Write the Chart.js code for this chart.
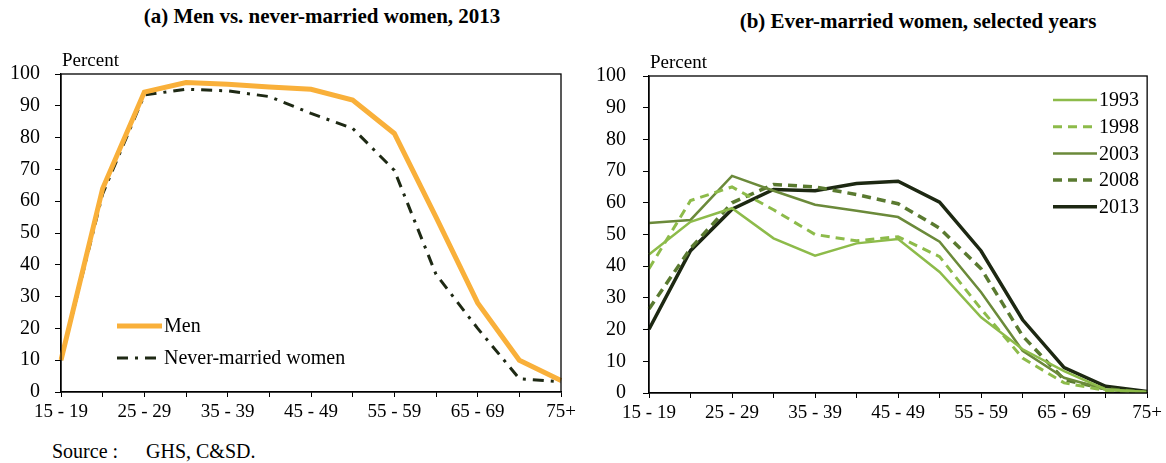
<!DOCTYPE html>
<html>
<head>
<meta charset="utf-8">
<script src="https://cdn.jsdelivr.net/npm/chart.js@4.4.0/dist/chart.umd.min.js"></script>
<style>
  body { margin: 0; background: #fff; font-family: "Liberation Serif", "Times New Roman", Times, serif; }
  #wrap { position: relative; width: 1166px; height: 463px; }
  .box { position: absolute; top: 0; height: 440px; }
  .ttl { position: absolute; font-weight: bold; font-size: 21px; white-space: nowrap; transform: translateX(-50%); }
  .src { position: absolute; top: 440px; font-size: 20px; white-space: nowrap; }
</style>
</head>
<body>
<div id="wrap">
  <div class="ttl" style="left:322px; top:4px;">(a) Men vs. never-married women, 2013</div>
  <div class="ttl" style="left:918px; top:9px;">(b) Ever-married women, selected years</div>
  <div class="box" style="left:0; width:580px;"><canvas id="chartA"></canvas></div>
  <div class="box" style="left:588px; width:578px;"><canvas id="chartB"></canvas></div>
  <div class="src" style="left:52px;">Source :</div>
  <div class="src" style="left:146px;">GHS, C&amp;SD.</div>
</div>
<script>
// kelompok umur
const ageGroups = ['15 - 19', '20 - 24', '25 - 29', '30 - 34', '35 - 39', '40 - 44', '45 - 49',
                   '50 - 54', '55 - 59', '60 - 64', '65 - 69', '70 - 74', '75+'];

// panel (a)
const men = [10, 64, 94.3, 97.3, 96.8, 95.9, 95.2, 91.8, 81.3, 55, 28, 10, 3.6];
const neverMarriedWomen = [10, 62.3, 93.4, 95.2, 94.7, 92.9, 87.6, 82.9, 69.7, 37, 20, 4.2, 3.2];

// panel (b)
const ever1993 = [43.7, 54, 58.3, 48.8, 43.3, 47.2, 48.6, 38.2, 23.9, 13.8, 6.9, 1.1, 0.3];
const ever1998 = [39.2, 60.7, 65, 57.8, 50, 48, 49.3, 43, 26.5, 11, 3.2, 0.8, 0.2];
const ever2003 = [53.6, 54.6, 68.5, 63.8, 59.4, 57.5, 55.5, 47.7, 31.8, 13.3, 4.8, 1.1, 0.2];
const ever2008 = [26.5, 45.6, 60, 65.8, 65, 62.6, 59.7, 52, 39.2, 18, 4.2, 1.3, 0.2];
const ever2013 = [20.1, 44.9, 58, 64.2, 63.8, 66.1, 66.8, 60.2, 44.8, 23.1, 8, 2.1, 0.5];

const yTicks = [0, 10, 20, 30, 40, 50, 60, 70, 80, 90, 100];

const FONT = '"Liberation Serif", "Times New Roman", serif';

// kotak plot, label "Percent" dan legenda
const framePlugin = {
    id: 'frame',
    afterDraw(chart, args, opts) {
        const ctx = chart.ctx;
        const a = chart.chartArea;
        ctx.save();
        ctx.strokeStyle = '#000';
        ctx.lineWidth = 1.3;
        ctx.strokeRect(a.left, a.top, a.right - a.left, a.bottom - a.top);

        ctx.fillStyle = '#000';
        ctx.font = '19px ' + FONT;
        ctx.textBaseline = 'alphabetic';
        ctx.textAlign = 'left';
        ctx.fillText('Percent', a.left + 1, a.top - 8);

        // legenda
        const lg = opts.legend;
        chart.data.datasets.forEach((ds, i) => {
            const y = lg.y + i * lg.step;
            ctx.beginPath();
            ctx.setLineDash(ds.borderDash || []);
            ctx.strokeStyle = ds.borderColor;
            ctx.lineWidth = ds.borderWidth;
            ctx.moveTo(lg.x, y);
            ctx.lineTo(lg.x + lg.len, y);
            ctx.stroke();
            ctx.setLineDash([]);
            ctx.fillStyle = '#000';
            ctx.font = '20px ' + FONT;
            ctx.textBaseline = 'middle';
            ctx.fillText(ds.label, lg.x + lg.len + 2, y + 1);
        });
        ctx.restore();
    }
};

const makeOptions = (padRight, padTop, yPad, legend) => ({
    responsive: true,
    maintainAspectRatio: false,
    animation: false,
    layout: { padding: { left: 0, right: padRight, top: padTop, bottom: 0 } },
    plugins: {
        legend: { display: false },
        tooltip: { enabled: false },
        frame: { legend: legend }
    },
    elements: { point: { radius: 0 }, line: { tension: 0 } },
    scales: {
        x: {
            offset: false,
            grid: { display: true, drawOnChartArea: false, tickLength: 5, color: '#000', offset: false },
            border: { color: '#000', width: 1.3 },
            ticks: {
                color: '#000',
                autoSkip: false,
                maxRotation: 0,
                padding: 4,
                font: { family: FONT, size: 19 },
                callback: (v, i) => (i % 2 === 0 ? ageGroups[i] : '')
            },
            afterFit: (s) => { s.height = 440 - 392 - (padTop === 76 ? 1 : 0); }
        },
        y: {
            min: 0,
            max: 100,
            grid: { display: true, drawOnChartArea: false, tickLength: 6, color: '#000' },
            border: { color: '#000', width: 1.3 },
            afterBuildTicks: (s) => { s.ticks = yTicks.map(v => ({ value: v })); },
            ticks: {
                color: '#000',
                padding: yPad,
                font: { family: FONT, size: 20 }
            },
            afterFit: (s) => { s.width = 61; }
        }
    }
});

new Chart(document.getElementById('chartA'), {
    type: 'line',
    data: {
        labels: ageGroups,
        datasets: [{
            label: 'Men',
            data: men,
            borderColor: '#F9B03A',
            borderWidth: 5,
            borderJoinStyle: 'miter'
        }, {
            label: 'Never-married women',
            data: neverMarriedWomen,
            borderColor: '#1E2914',
            borderWidth: 3,
            borderDash: [11, 7, 3, 7]
        }]
    },
    options: makeOptions(19, 74, 15, { x: 117, y: 326, step: 32, len: 45 }),
    plugins: [framePlugin]
});

new Chart(document.getElementById('chartB'), {
    type: 'line',
    data: {
        labels: ageGroups,
        datasets: [{
            label: '1993',
            data: ever1993,
            borderColor: '#8DBB4A',
            borderWidth: 2.5
        }, {
            label: '1998',
            data: ever1998,
            borderColor: '#8DBB4A',
            borderWidth: 3,
            borderDash: [9, 6]
        }, {
            label: '2003',
            data: ever2003,
            borderColor: '#6B8A3A',
            borderWidth: 2.5
        }, {
            label: '2008',
            data: ever2008,
            borderColor: '#5A7A30',
            borderWidth: 3.5,
            borderDash: [9, 6]
        }, {
            label: '2013',
            data: ever2013,
            borderColor: '#1D2812',
            borderWidth: 3.5
        }]
    },
    options: makeOptions(17, 76, 17, { x: 465, y: 100, step: 26.7, len: 44 }),
    plugins: [framePlugin]
});
</script>
</body>
</html>
